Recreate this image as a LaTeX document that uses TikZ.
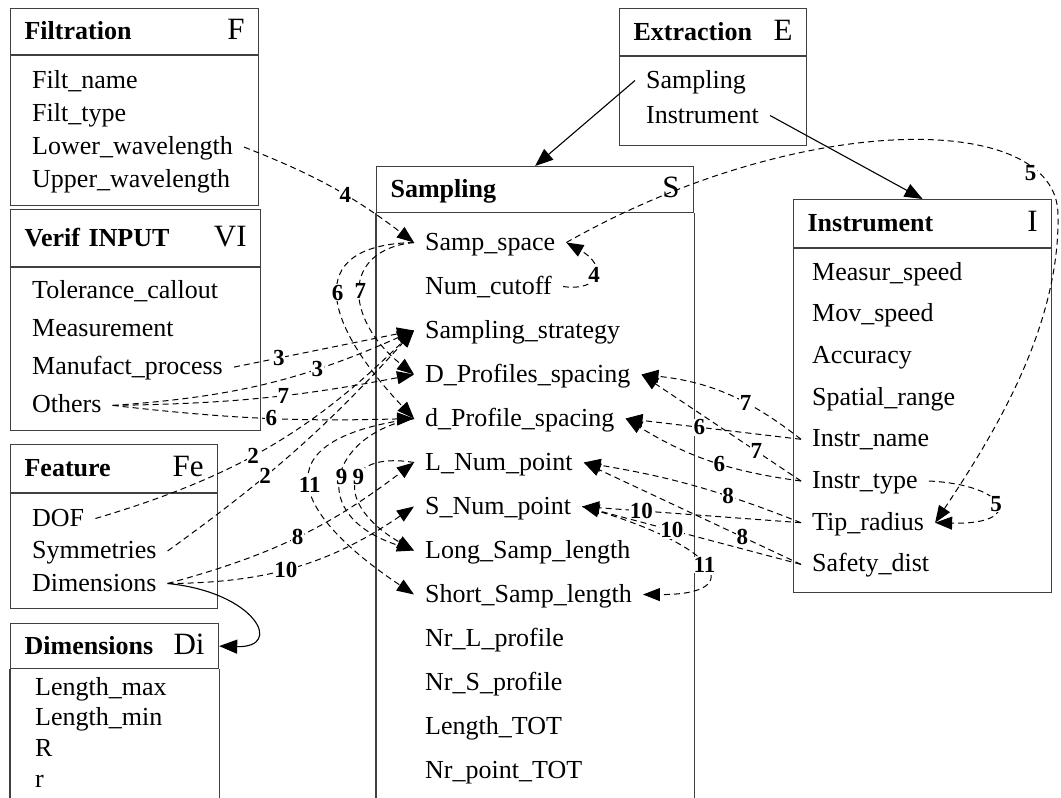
\documentclass[tikz,border=0pt]{standalone}
\usepackage{fontspec}
\setmainfont{Liberation Serif}
\usetikzlibrary{matrix, arrows.meta, positioning}
\newcommand{\ltr}[1]{\hfill{\mdseries\fontsize{31}{31}\selectfont #1}}
\tikzset{
headbox/.style={
  draw=black!75, line width=1.2pt, rectangle,
  inner xsep=14pt, inner ysep=0pt, align=left,
  text height=22pt, text depth=6pt,
  font=\bfseries\fontsize{26}{30}\selectfont
},
bodybox/.style={draw=black!75, line width=1.2pt, rectangle, inner sep=0pt},
boxline/.style={draw=black!75, line width=1.2pt},
attrs/.style={
  matrix of nodes,
  inner sep=0pt,
  nodes={anchor=base west, inner xsep=11pt, inner ysep=0pt,
         text height=20pt, text depth=5pt,
         font=\fontsize{26}{30}\selectfont}
},
link/.style={line width=1pt, dash pattern=on 6pt off 4pt,
  -{Triangle[length=17pt,width=13pt]}},
owns/.style={line width=1.1pt, -{Triangle[length=18pt,width=14pt]}},
num/.style={font=\bfseries\fontsize{23}{25}\selectfont, fill=white, inner sep=0.6pt},
}

\begin{document}
\begin{tikzpicture}[x=1pt, y=-1pt]
    \useasboundingbox (0,0) rectangle (1061,798);
    \coordinate (pagebottom) at (0,798);

    \node[headbox, text width=220pt, minimum height=46pt, anchor=north west] (Fhead) at (10,8) {Filtration\ltr{F}};
    \node[bodybox, minimum width=248pt, minimum height=150pt, anchor=north] (Fbody) at (Fhead.south) {};
    \matrix (F) [attrs, row sep={33.3pt,between origins}, matrix anchor=F-1-1.base west] at (21,88) {
        Filt\_name \\
        Filt\_type \\
        Lower\_wavelength \\
        Upper\_wavelength \\
    };

    \node[headbox, text width=222pt, minimum height=57pt, anchor=north west] (Vhead) at (10,209) {Verif INPUT\ltr{VI}};
    \node[bodybox, minimum width=250pt, minimum height=163pt, anchor=north] (Vbody) at (Vhead.south) {};
    \matrix (V) [attrs, row sep={38.3pt,between origins}, matrix anchor=V-1-1.base west] at (21,298) {
        Tolerance\_callout \\
        Measurement \\
        Manufact\_process \\
        Others \\
    };

    \node[headbox, text width=179pt, minimum height=48pt, anchor=north west] (Fehead) at (10,444) {Feature\ltr{Fe}};
    \node[bodybox, minimum width=207pt, minimum height=115pt, anchor=north] (Febody) at (Fehead.south) {};
    \matrix (Fe) [attrs, row sep={32.5pt,between origins}, matrix anchor=Fe-1-1.base west] at (21,526) {
        DOF \\
        Symmetries \\
        Dimensions \\
    };

    \node[headbox, text width=180pt, minimum height=45pt, anchor=north west] (Dihead) at (10,623) {Dimensions\ltr{Di}};
    \draw[boxline] (Dihead.south west) -- (Dihead.south west |- pagebottom);
    \draw[boxline] (Dihead.south east) -- (Dihead.south east |- pagebottom);
    \matrix (Di) [attrs, row sep={30.7pt,between origins}, matrix anchor=Di-1-1.base west] at (24,695) {
        Length\_max \\
        Length\_min \\
        R \\
        r \\
    };

    \node[headbox, text width=159pt, minimum height=47pt, anchor=north west] (Ehead) at (619,8) {Extraction\ltr{E}};
    \node[bodybox, minimum width=187pt, minimum height=89pt, anchor=north] (Ebody) at (Ehead.south) {};
    \matrix (E) [attrs, row sep={35pt,between origins}, matrix anchor=E-1-1.base west] at (635,88) {
        Sampling \\
        Instrument \\
    };

    \node[headbox, text width=289pt, minimum height=46pt, anchor=north west] (Shead) at (376,166) {Sampling\ltr{S}};
    \draw[boxline] (Shead.south west) -- (Shead.south west |- pagebottom);
    \draw[boxline] (Shead.south east) -- (Shead.south east |- pagebottom);
    \matrix (S) [attrs, row sep={44pt,between origins}, matrix anchor=S-1-1.base west] at (414,250) {
        Samp\_space \\
        Num\_cutoff \\
        Sampling\_strategy \\
        D\_Profiles\_spacing \\
        d\_Profile\_spacing \\
        L\_Num\_point \\
        S\_Num\_point \\
        Long\_Samp\_length \\
        Short\_Samp\_length \\
        Nr\_L\_profile \\
        Nr\_S\_profile \\
        Length\_TOT \\
        Nr\_point\_TOT \\
    };

    \node[headbox, text width=230pt, minimum height=48pt, anchor=north west] (Ihead) at (793,199) {Instrument\ltr{I}};
    \node[bodybox, minimum width=258pt, minimum height=344pt, anchor=north] (Ibody) at (Ihead.south) {};
    \matrix (I) [attrs, row sep={41.7pt,between origins}, matrix anchor=I-1-1.base west] at (801,280) {
        Measur\_speed \\
        Mov\_speed \\
        Accuracy \\
        Spatial\_range \\
        Instr\_name \\
        Instr\_type \\
        Tip\_radius \\
        Safety\_dist \\
    };

    \draw[owns] (E-1-1.west) -- (Shead.north);
    \draw[owns] (E-2-1.east) -- (Ihead.north);
    \draw[owns] (Fe-3-1.east) .. controls (255,592) and (285,648) .. (Dihead.east);

    \draw[link] (F-3-1.east) to[bend left=8] node[num, pos=0.58] {4} (S-1-1.west);
    \draw[link] (S-2-1.east) .. controls (600,292) and (608,266) .. (S-1-1.east) node[num, pos=0.5] {4};
    \draw[link] (S-1-1.east) .. controls (800,110) and (1058,110) .. (1058,215) node[num, pos=0.84, left=2pt] {5}
                .. controls (1060,330) and (990,440) .. (I-7-1.east);
    \draw[link] (I-6-1.east) .. controls (1010,485) and (1025,525) .. (I-7-1.east) node[num, pos=0.5] {5};

    \draw[link] (V-3-1.east) -- node[num, pos=0.25] {3} (S-3-1.west);
    \draw[link] (V-4-1.east) to[bend right=10] node[num, pos=0.68] {3} (S-3-1.west);
    \draw[link] (V-4-1.east) to[bend right=5] node[num, pos=0.57] {7} (S-4-1.west);
    \draw[link] (V-4-1.east) to[bend right=4] node[num, pos=0.53] {6} (S-5-1.west);
    \draw[link] (Fe-1-1.east) to[bend right=14] node[num, pos=0.45] {2} (S-3-1.west);
    \draw[link] (Fe-2-1.east) to[bend right=6] node[num, pos=0.36] {2} (S-3-1.west);
    \draw[link] (Fe-3-1.east) to[bend right=11] node[num, pos=0.5] {8} (S-6-1.west);
    \draw[link] (Fe-3-1.east) to[bend right=17] node[num, pos=0.45] {10} (S-7-1.west);

    \draw[link] (S-1-1.west) .. controls (340,250) and (345,320) .. (S-4-1.west) node[num, pos=0.5] {7};
    \draw[link] (S-1-1.west) .. controls (300,245) and (325,325) .. (S-5-1.west) node[num, pos=0.48] {6};
    \draw[link] (S-5-1.west) .. controls (330,435) and (305,515) .. (S-8-1.west) node[num, pos=0.5] {9};
    \draw[link] (S-6-1.west) .. controls (340,450) and (335,505) .. (S-8-1.west) node[num, pos=0.42] {9};
    \draw[link] (S-5-1.west) .. controls (255,440) and (295,515) .. (S-9-1.west) node[num, pos=0.5] {11};
    \draw[link] (S-7-1.east) .. controls (720,545) and (750,595) .. (S-9-1.east) node[num, pos=0.5] {11};

    \draw[link] (I-5-1.west) to[bend right=16] node[num, pos=0.37] {7} (S-4-1.east);
    \draw[link] (I-6-1.west) -- node[num, pos=0.28] {7} (S-4-1.east);
    \draw[link] (I-5-1.west) -- node[num, pos=0.58] {6} (S-5-1.east);
    \draw[link] (I-6-1.west) to[bend left=12] node[num, pos=0.44] {6} (S-5-1.east);
    \draw[link] (I-7-1.west) to[bend right=6] node[num, pos=0.33] {8} (S-6-1.east);
    \draw[link] (I-8-1.west) -- node[num, pos=0.27] {8} (S-6-1.east);
    \draw[link] (I-7-1.west) -- node[num, pos=0.73] {10} (S-7-1.east);
    \draw[link] (I-8-1.west) -- node[num, pos=0.59] {10} (S-7-1.east);
\end{tikzpicture}
\end{document}
